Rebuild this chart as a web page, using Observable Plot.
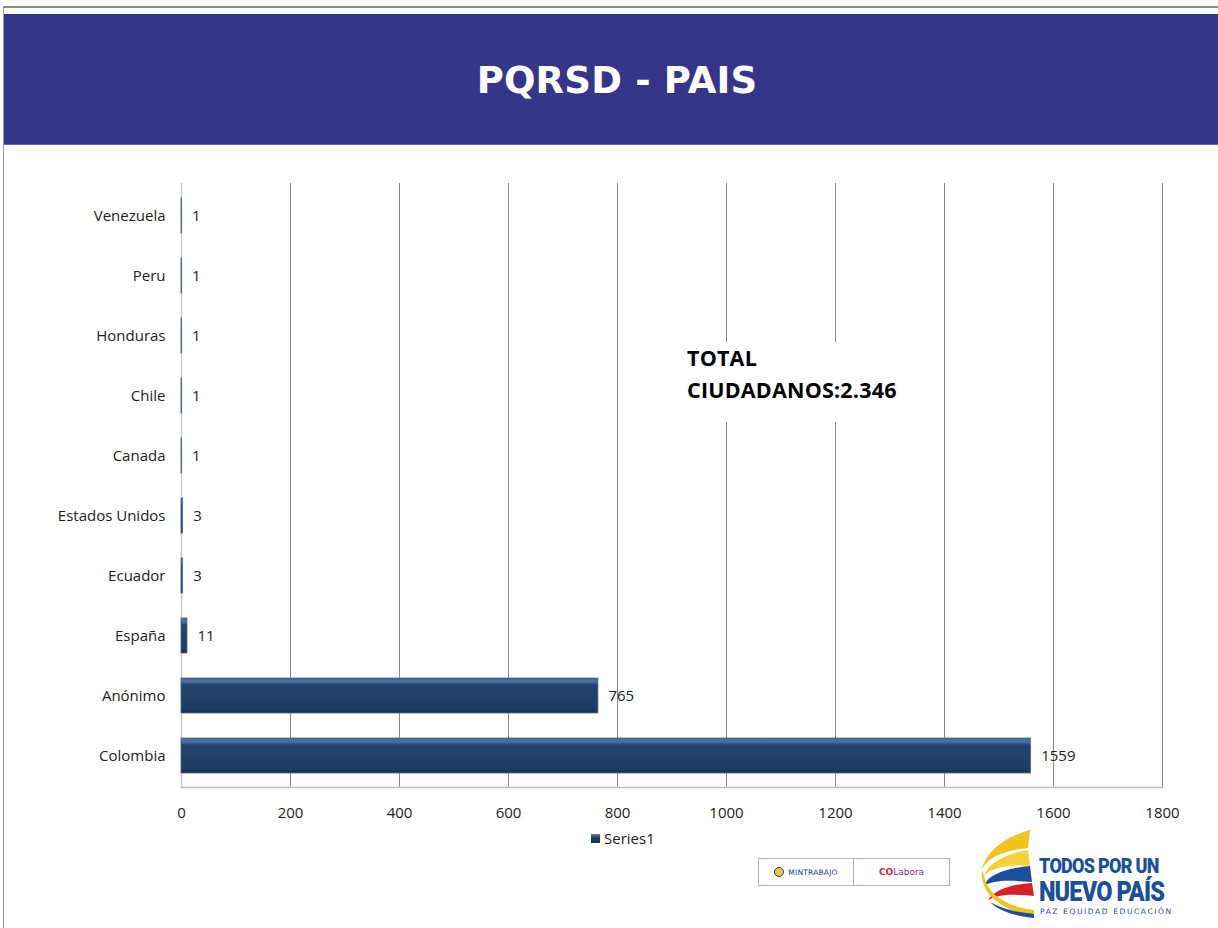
<!DOCTYPE html>
<html>
<head>
<meta charset="utf-8">
<script src="https://cdn.jsdelivr.net/npm/d3@7"></script>
<script src="https://cdn.jsdelivr.net/npm/@observablehq/plot@0.6"></script>
<style>
  html, body { margin: 0; padding: 0; background: #fff; }
  body { width: 1218px; height: 928px; position: relative; overflow: hidden; font-family: "Open Sans", Lato, sans-serif; }
  #frame { position: absolute; left: 3px; top: 6px; width: 1240px; height: 940px; border-top: 2px solid #8c8c8c; border-left: 1px solid #9a9a9a; }
  #titlebar { position: absolute; left: 4px; top: 14px; width: 1214px; height: 130px; background: #35368a; border-bottom: 1px solid #6a6aa8;
    display: flex; align-items: center; justify-content: center; }
  #titlebar h1 { margin: 0 0 0 12px; color: #fff; font-family: "DejaVu Sans", Verdana, sans-serif; font-weight: bold; font-size: 37px; letter-spacing: 0.2px; position: relative; top: 1px; }
  #chart { position: absolute; left: 0; top: 150px; }
  #note { position: absolute; left: 680px; top: 342px; width: 228px; height: 80px; background: #fff; padding-left: 7px; box-sizing: border-box;
    font-family: "Open Sans", Lato, sans-serif; font-weight: bold; font-size: 21.5px; line-height: 32px; color: #000; white-space: nowrap; letter-spacing: 0.2px; }
  #legend { position: absolute; left: 591px; top: 828px; font-size: 15px; color: #222; display: flex; align-items: center; }
  #legend .sw { width: 9px; height: 9px; background: linear-gradient(#5a7fb0, #1f3d66 45%, #162e50); margin-right: 4px; }
  #mint { position: absolute; left: 758px; top: 858px; width: 190px; height: 26px; border: 1px solid #aab4c8; display: flex; font-size: 8px; }
  #mint .a { width: 94px; border-right: 1px solid #aab4c8; display: flex; align-items: center; justify-content: center; color: #1f3d7a; font-family: "DejaVu Sans", sans-serif; font-size: 7.5px; letter-spacing: 0.2px; }
  #mint .a .seal { width: 10px; height: 10px; border-radius: 50%; border: 1.5px solid #27408b; background: #e8c53a; margin-right: 4px; box-sizing: border-box; }
  #mint .b { flex: 1; display: flex; align-items: center; justify-content: center; color: #cc1b3c; font-family: "DejaVu Sans", sans-serif; font-weight: bold; font-size: 9px; }
  #mint .b span { color: #7b2a8c; font-weight: normal; }
  #logo { position: absolute; left: 978px; top: 828px; width: 200px; height: 95px; }
  #logo .t1 { position: absolute; left: 61px; top: 29px; line-height: 18px; height: 18px; font-family: "Roboto", "DejaVu Sans Condensed", sans-serif; font-weight: 900; font-size: 20px; color: #1b4f9c; letter-spacing: -0.8px; transform: scaleX(0.9); transform-origin: left; white-space: nowrap; }
  #logo .t2 { position: absolute; left: 61px; top: 52px; line-height: 24px; height: 24px; font-family: "Roboto", "DejaVu Sans Condensed", sans-serif; font-weight: 900; font-size: 27px; color: #1b4f9c; letter-spacing: -1px; transform: scaleX(0.87); transform-origin: left; white-space: nowrap; }
  #logo .t3 { position: absolute; left: 62px; top: 79px; line-height: 9px; font-family: "DejaVu Sans", sans-serif; font-size: 7.5px; color: #1b4f9c; letter-spacing: 1.6px; white-space: nowrap; }
</style>
</head>
<body>
<div id="frame"></div>
<div id="titlebar"><h1>PQRSD - PAIS</h1></div>
<div id="chart"></div>
<div id="note">TOTAL<br>CIUDADANOS:2.346</div>
<div id="legend"><div class="sw"></div><div>Series1</div></div>
<div id="mint"><div class="a"><div class="seal"></div>MINTRABAJO</div><div class="b">CO<span>Labora</span></div></div>
<div id="logo">
  <svg width="60" height="95" style="position:absolute;left:0;top:0">
    <path d="M52,2 C30,8 8,22 4,42 C8,30 26,22 50,20 Z" fill="#f4c21c"/>
    <path d="M50,22 C28,26 10,34 6,48 C12,40 30,36 52,38 Z" fill="#f6d23a"/>
    <path d="M52,38 C30,40 10,46 6,58 C14,52 32,52 54,54 Z" fill="#1b4f9c"/>
    <path d="M54,55 C34,56 16,62 10,72 C20,66 36,66 56,68 Z" fill="#d8202a"/>
    <path d="M4,42 C2,60 14,80 56,88 L56,82 C26,78 10,66 6,48 Z" fill="#f4c21c"/>
    <path d="M10,72 C18,82 36,88 56,90 L56,86 C36,84 22,80 12,74 Z" fill="#1b4f9c"/>
  </svg>
  <div class="t1">TODOS POR UN</div>
  <div class="t2">NUEVO PAÍS</div>
  <div class="t3">PAZ EQUIDAD EDUCACIÓN</div>
</div>
<script>
const countries = ["Venezuela","Peru","Honduras","Chile","Canada","Estados Unidos","Ecuador","España","Anónimo","Colombia"];
const values = [1,1,1,1,1,3,3,11,765,1559];
const xTicks = [0,200,400,600,800,1000,1200,1400,1600,1800];

const data = countries.map((c, i) => ({country: c, value: values[i]}));

const defs = () => {
  const ns = "http://www.w3.org/2000/svg";
  const d = document.createElementNS(ns, "defs");
  d.innerHTML = `
    <linearGradient id="barGrad" x1="0" y1="0" x2="0" y2="1">
      <stop offset="0" stop-color="#3e6494"/>
      <stop offset="0.1" stop-color="#4a72a4"/>
      <stop offset="0.2" stop-color="#23436f"/>
      <stop offset="0.85" stop-color="#1e3c64"/>
      <stop offset="1" stop-color="#18324f"/>
    </linearGradient>`;
  return d;
};

const chart = Plot.plot({
  width: 1218,
  height: 700,
  marginLeft: 181,
  marginRight: 56,
  marginTop: 33,
  marginBottom: 63,
  style: {fontFamily: "'Open Sans', Lato, sans-serif", fontSize: "15px", color: "#222", background: "transparent"},
  x: {domain: [0, 1800], ticks: xTicks, tickFormat: d3.format("d"), tickSize: 0, tickPadding: 20, label: null, grid: false},
  y: {domain: countries, paddingInner: 0.423, paddingOuter: 0.19, tickSize: 0, tickPadding: 16, label: null},
  marks: [
    defs,
    Plot.ruleX(xTicks.slice(1), {stroke: "#8a8a8a", strokeWidth: 1, strokeOpacity: 1}),
    Plot.ruleX([0], {stroke: "#c8c8c8", strokeWidth: 1.5}),
    Plot.barX(data, {x: "value", y: "country", fill: "url(#barGrad)", stroke: "#4f6a8e", strokeWidth: 0.8,
      style: {filter: "drop-shadow(2px 2px 1.5px rgba(0,0,0,0.35))"}}),
    Plot.text(data, {x: "value", y: "country", text: d => String(d.value), dx: 10, textAnchor: "start", fill: "#222", fontSize: 15}),
    Plot.axisX({ticks: xTicks, tickFormat: d3.format("d"), tickSize: 0, tickPadding: 20, label: null, fontSize: 15}),
    Plot.axisY({tickSize: 0, tickPadding: 16, label: null, fontSize: 15}),
    Plot.frame({anchor: "bottom", stroke: "#bdbdbd", strokeWidth: 1.5})
  ]
});
document.getElementById("chart").appendChild(chart);
</script>
</body>
</html>
